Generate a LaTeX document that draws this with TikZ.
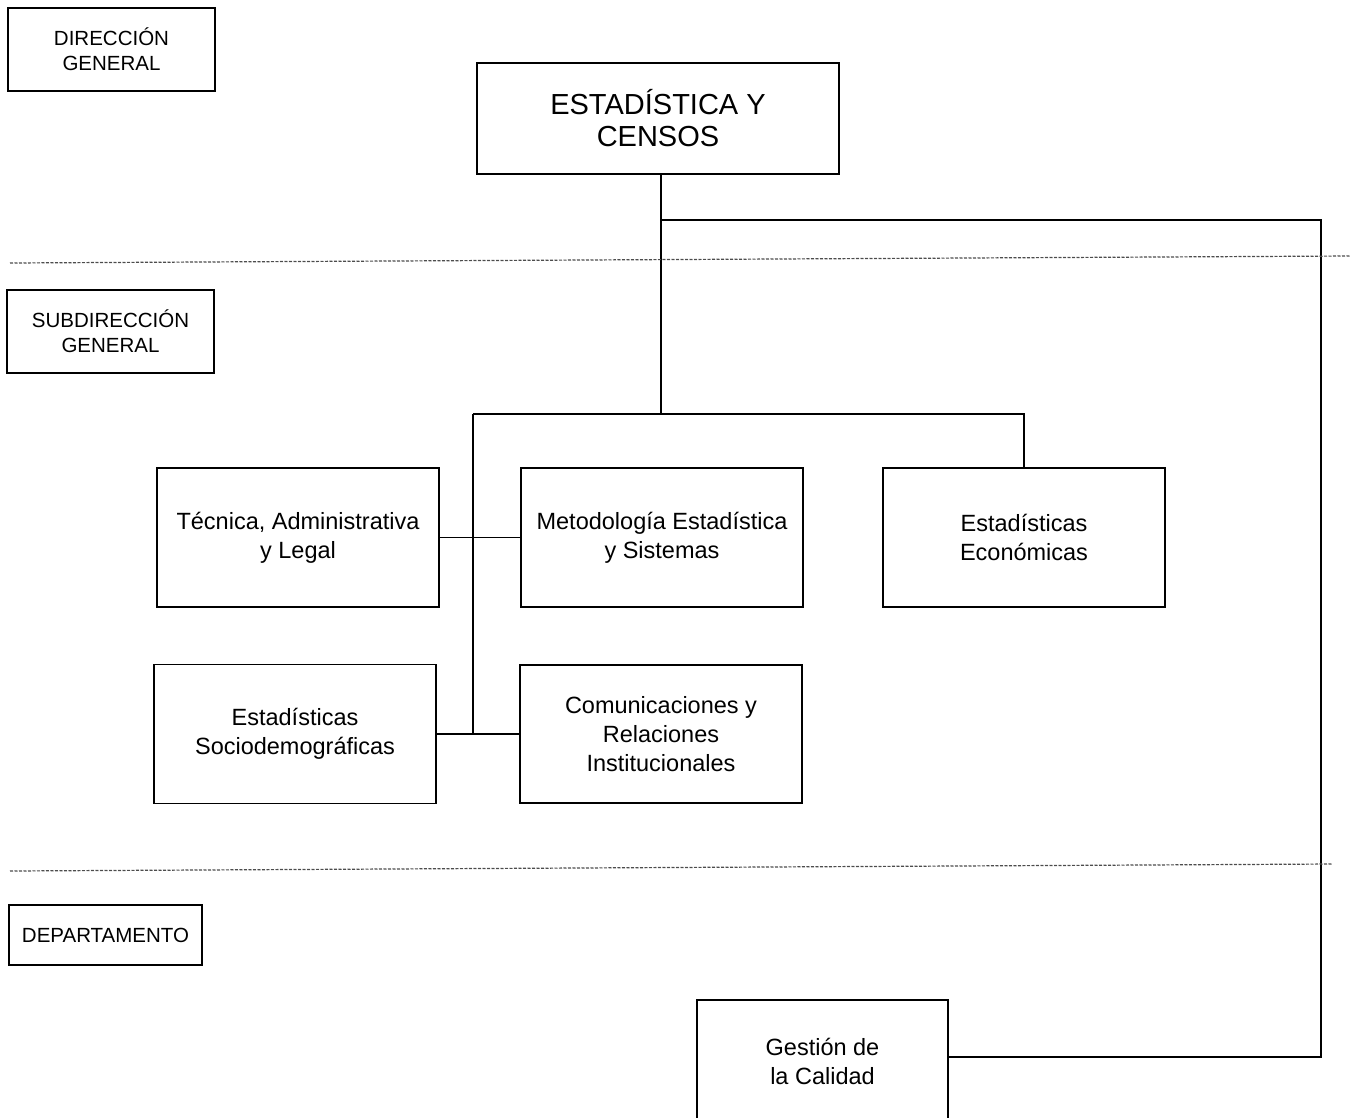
\documentclass[tikz,border=0pt]{standalone}
\usepackage{fontspec}
\setmainfont{Liberation Sans}
\begin{document}
\begin{tikzpicture}[x=1pt,y=-1pt,
  box/.style={draw,line width=1.3pt,align=center,inner sep=0pt,anchor=center},
  link/.style={line width=1.3pt},
  level/.style={dashed,dash pattern=on 3pt off 1.5pt,line width=1.2pt,black!70}]
\useasboundingbox (0,0) rectangle (1357,1117);
% level labels
\node[box,minimum width=207pt,minimum height=83pt,font=\fontsize{20.5}{25}\selectfont] (dg) at (111.5,49.5) {DIRECCIÓN\\GENERAL};
\node[box,minimum width=207pt,minimum height=83pt,font=\fontsize{20.5}{25}\selectfont] (sg) at (110.5,331.5) {SUBDIRECCIÓN\\GENERAL};
\node[box,minimum width=193pt,minimum height=60pt,font=\fontsize{20.5}{25}\selectfont] (dep) at (105.5,935) {DEPARTAMENTO};
% units
\node[box,minimum width=362pt,minimum height=111pt,font=\fontsize{29}{32}\selectfont] (top) at (658,118.5) {ESTADÍSTICA Y\\CENSOS};
\node[box,minimum width=282pt,minimum height=139pt,font=\fontsize{23.5}{29}\selectfont] (tec) at (298,537.5) {Técnica, Administrativa\\y Legal};
\node[box,minimum width=282pt,minimum height=139pt,font=\fontsize{23.5}{29}\selectfont] (met) at (662,537.5) {Metodología Estadística\\y Sistemas};
\node[box,minimum width=282pt,minimum height=139pt,font=\fontsize{23.5}{29}\selectfont] (eco) at (1024,537.5) {Estadísticas\\Económicas};
\node[box,minimum width=282pt,minimum height=139pt,font=\fontsize{23.5}{29}\selectfont] (soc) at (295,734) {Estadísticas\\Sociodemográficas};
\node[box,minimum width=282pt,minimum height=138pt,font=\fontsize{23.5}{29}\selectfont] (com) at (661,734) {Comunicaciones y\\Relaciones\\Institucionales};
\node[box,minimum width=251pt,minimum height=122pt,font=\fontsize{23.5}{29}\selectfont] (gest) at (822.5,1061) {Gestión de\\la Calidad};
% junctions
\coordinate (j0) at (661,220);
\coordinate (j1) at (661,414);
\coordinate (jl) at (473,414);
\coordinate (rr) at (1321,220);
\coordinate (rb) at (1321,1057);
% connectors
\draw[link] (top.south -| j0) -- (j1);
\draw[link] (j0) -- (rr) -- (rb) -- (rb -| gest.east);
\draw[link] (jl) -- (j1) -| (eco.north);
\draw[link] (jl) -- (jl |- soc.east);
\draw[link] (tec.east) -- (met.west);
\draw[link] (soc.east) -- (com.west);
% level separators
\coordinate (d1a) at (10,263);
\coordinate (d1b) at (1350,256);
\coordinate (d2a) at (10,871);
\coordinate (d2b) at (1332,864);
\draw[level] (d1a) -- (d1b);
\draw[level] (d2a) -- (d2b);
\end{tikzpicture}
\end{document}
